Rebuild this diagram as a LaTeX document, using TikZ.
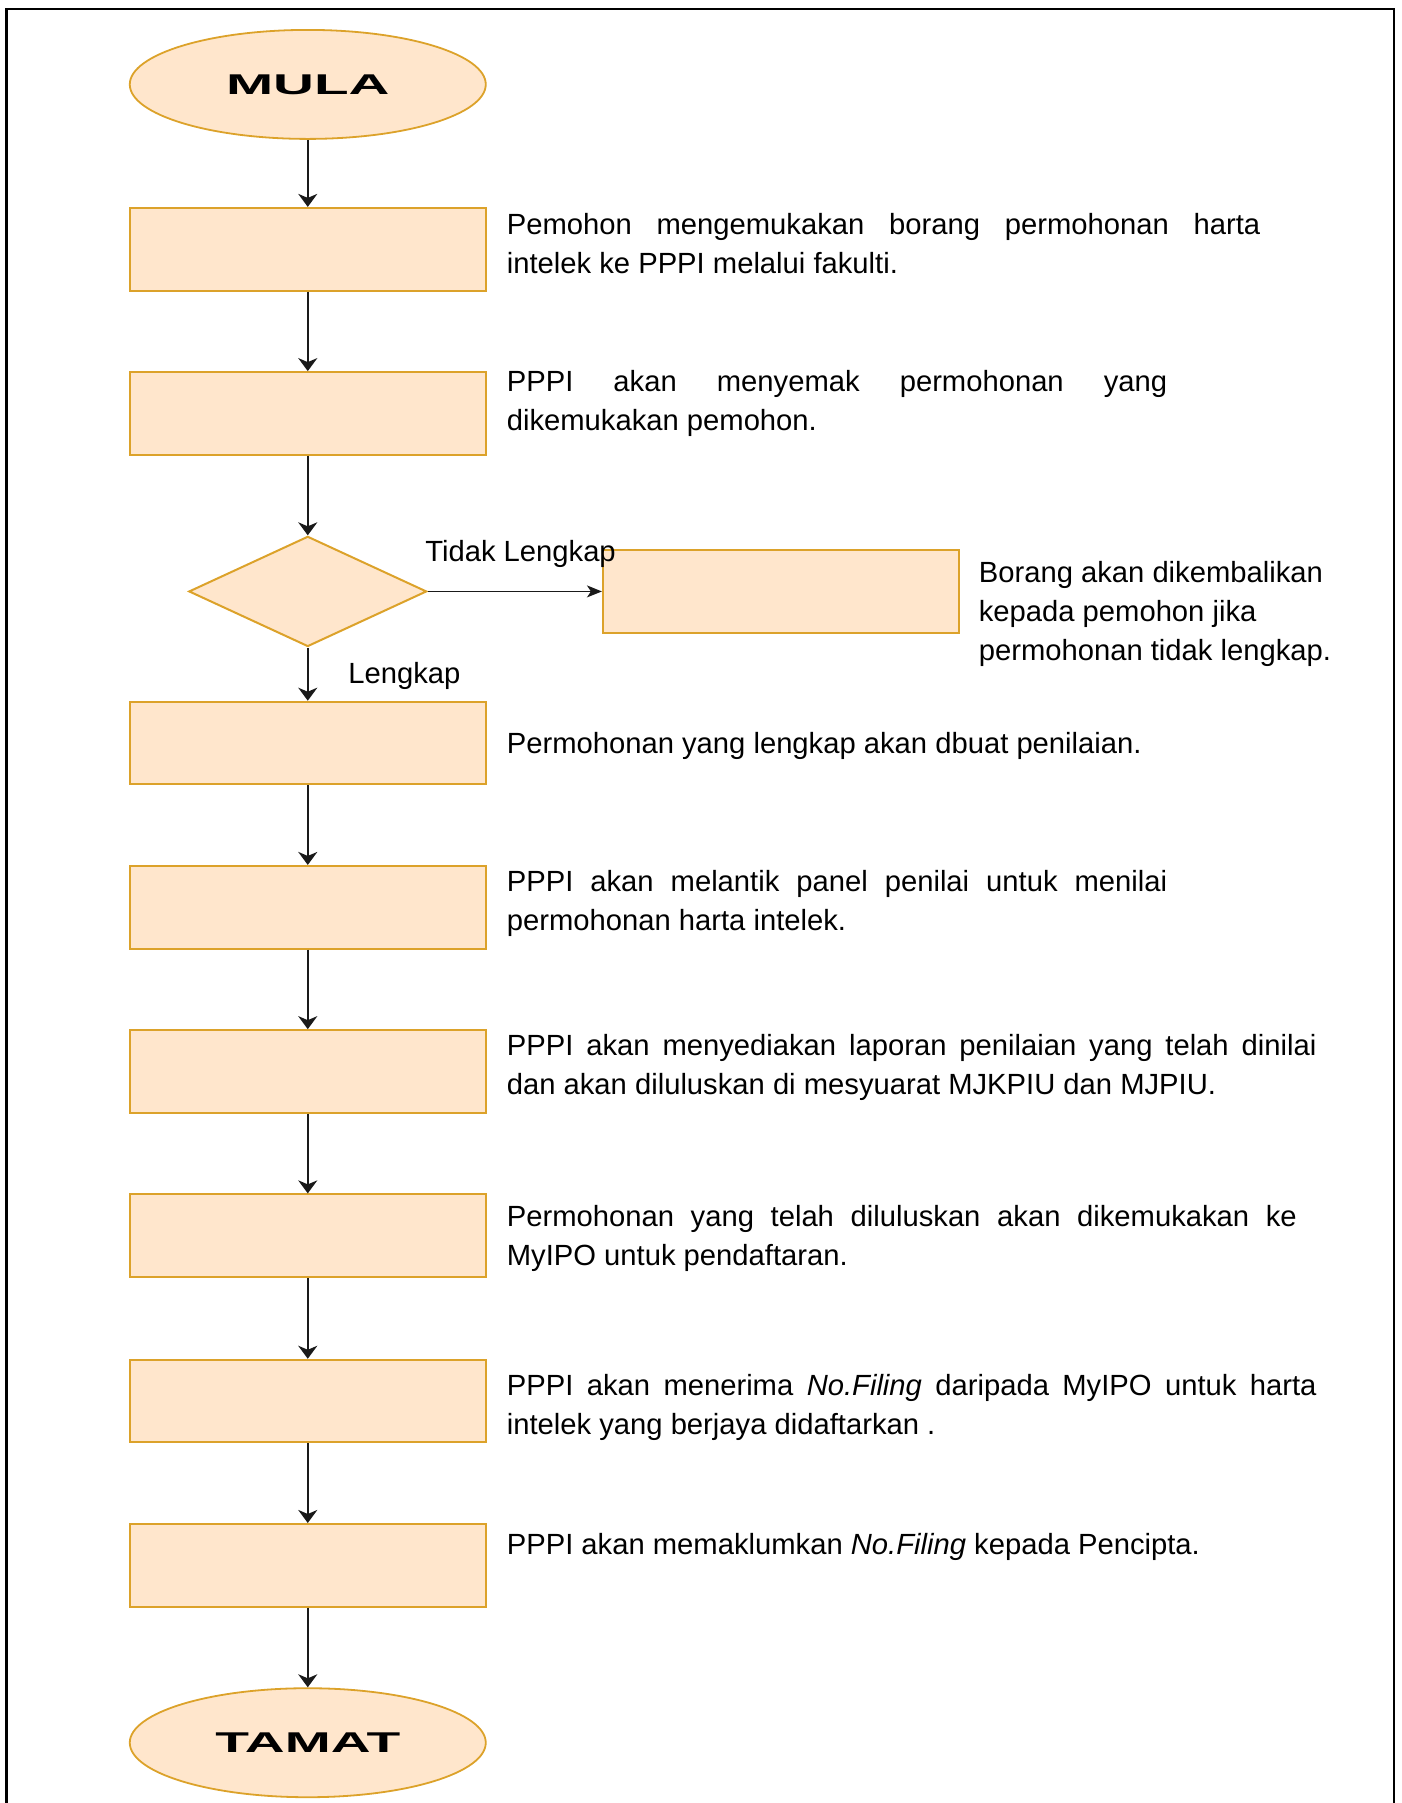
\documentclass[tikz,border=0pt]{standalone}
\usepackage{graphicx}
\usepackage{fontspec}
\setmainfont{Liberation Sans}
\usetikzlibrary{shapes.geometric,arrows.meta}
\definecolor{boxfill}{HTML}{FFE6CC}
\definecolor{boxline}{HTML}{DCA22A}
\definecolor{arrowc}{HTML}{1A1A1A}
\begin{document}
\begin{tikzpicture}[x=0.5742pt,y=-0.5742pt,
 stepbox/.style={rectangle, draw=boxline, fill=boxfill, line width=1pt, minimum width=178pt, minimum height=41.3pt, inner sep=0pt},
 termbox/.style={ellipse, draw=boxline, fill=boxfill, line width=0.9pt, minimum width=178pt, minimum height=54.5pt, inner sep=0pt, font=\fontsize{14.3}{16}\selectfont\bfseries},
 decbox/.style={diamond, draw=boxline, fill=boxfill, line width=1pt, minimum width=118.9pt, minimum height=55.1pt, inner sep=0pt},
 flow/.style={draw=arrowc, line width=1.1pt, -{Stealth[length=6.5pt,width=9.5pt,inset=2pt]}},
 sideflow/.style={draw=arrowc, line width=0.7pt, -{Stealth[length=7.5pt,width=6pt,inset=2pt]}},
 txt/.style={anchor=base west, inner sep=0pt, font=\fontsize{14.6}{19.2}\selectfont},
]
\useasboundingbox (0,0) rectangle (1220,1570);
\draw[line width=1.3pt] (5.8,1570) -- (5.8,7.8) -- (1214,7.8) -- (1214,1570);

\node[termbox] (mula) at (268,73.5) {\scalebox{1.98}[1]{MULA}};
\node[stepbox] (s1) at (268,217) {};
\node[stepbox] (s2) at (268,360) {};
\node[decbox] (dec) at (268,515) {};
\node[stepbox] (side) at (680,515) {};
\node[stepbox] (s3) at (268,647) {};
\node[stepbox] (s4) at (268,790) {};
\node[stepbox] (s5) at (268,933) {};
\node[stepbox] (s6) at (268,1076) {};
\node[stepbox] (s7) at (268,1220) {};
\node[stepbox] (s8) at (268,1363) {};
\node[termbox] (tamat) at (268,1517.5) {\scalebox{1.93}[1]{TAMAT}};

\draw[flow] (mula.south) -- (s1.north);
\draw[flow] (s1.south) -- (s2.north);
\draw[flow] (s2.south) -- (dec.north);
\draw[flow] (dec.south) -- (s3.north);
\draw[flow] (s3.south) -- (s4.north);
\draw[flow] (s4.south) -- (s5.north);
\draw[flow] (s5.south) -- (s6.north);
\draw[flow] (s6.south) -- (s7.north);
\draw[flow] (s7.south) -- (s8.north);
\draw[flow] (s8.south) -- (tamat.north);
\draw[sideflow] (dec.east) -- (side.west);

\node[txt] (lbl1) at (370,489) {Tidak Lengkap};
\node[txt] (lbl2) at (303,595) {Lengkap};

\node[txt] (t1a) at (441,204) {\makebox[376.7pt][s]{Pemohon mengemukakan borang permohonan harta}};
\node[txt] (t1b) at (441,238) {intelek ke PPPI melalui fakulti.};

\node[txt] (t2a) at (441,341) {\makebox[330.2pt][s]{PPPI akan menyemak permohonan yang}};
\node[txt] (t2b) at (441,375) {dikemukakan pemohon.};

\node[txt] (sa) at (852,507) {Borang akan dikembalikan};
\node[txt] (sb) at (852,541) {kepada pemohon jika};
\node[txt] (sc) at (852,575) {permohonan tidak lengkap.};

\node[txt] (t3a) at (441,656) {Permohonan yang lengkap akan dbuat penilaian.};

\node[txt] (t4a) at (441,776) {\makebox[330.2pt][s]{PPPI akan melantik panel penilai untuk menilai}};
\node[txt] (t4b) at (441,810) {permohonan harta intelek.};

\node[txt] (t5a) at (441,919) {\makebox[404.8pt][s]{PPPI akan menyediakan laporan penilaian yang telah dinilai}};
\node[txt] (t5b) at (441,953) {dan akan diluluskan di mesyuarat MJKPIU dan MJPIU.};

\node[txt] (t6a) at (441,1068) {\makebox[395pt][s]{Permohonan yang telah diluluskan akan dikemukakan ke}};
\node[txt] (t6b) at (441,1102) {MyIPO untuk pendaftaran.};

\node[txt] (t7a) at (441,1215) {\makebox[404.8pt][s]{PPPI akan menerima \textit{No.Filing} daripada MyIPO untuk harta}};
\node[txt] (t7b) at (441,1249) {intelek yang berjaya didaftarkan .};

\node[txt] (t8a) at (441,1354) {PPPI akan memaklumkan \textit{No.Filing} kepada Pencipta.};
\end{tikzpicture}
\end{document}
